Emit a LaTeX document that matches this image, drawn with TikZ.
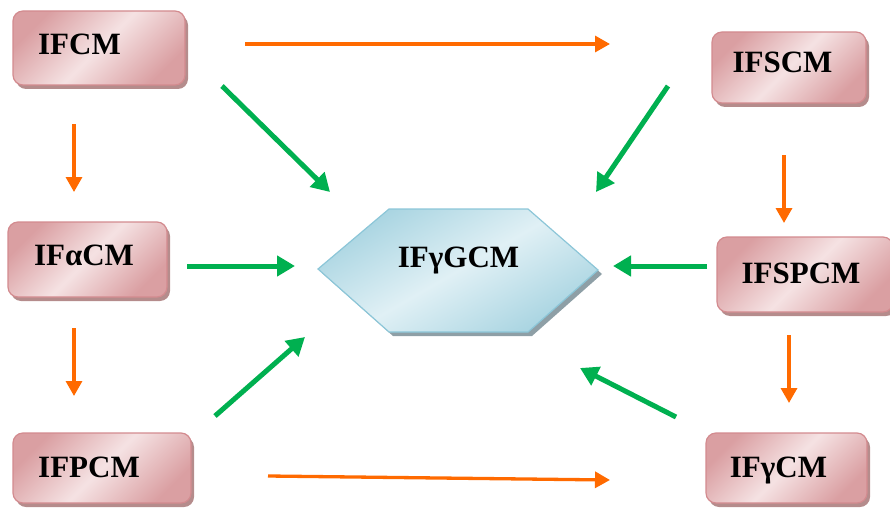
\documentclass[tikz,border=0pt]{standalone}
\usepackage{fontspec}
\setmainfont{Liberation Serif}
\usetikzlibrary{arrows.meta,shadows}
\definecolor{pinkL}{HTML}{F5E2E3}
\definecolor{pinkD}{HTML}{DA9FA2}
\definecolor{pinkB}{HTML}{D38B8F}
\definecolor{pinkS}{HTML}{B58C8C}
\definecolor{blueL}{HTML}{E0F0F5}
\definecolor{blueD}{HTML}{A8D4E1}
\definecolor{blueB}{HTML}{8CC6D8}
\definecolor{blueS}{HTML}{8E9FA6}
\definecolor{arrOr}{HTML}{FF6A00}
\definecolor{arrGr}{HTML}{00B050}
\tikzset{
  pbox/.style={draw=pinkB, line width=1.2pt, rounded corners=10pt,
    top color=pinkD, bottom color=pinkD, middle color=pinkL, shading angle=45,
    drop shadow={shadow xshift=3pt, shadow yshift=-4pt, fill=pinkS, opacity=1},
    inner sep=0pt},
  lbl/.style={font=\fontsize{31}{31}\selectfont\bfseries, anchor=base, inner sep=0pt},
  oarr/.style={draw=arrOr, line width=3.3pt, -{Triangle[length=15pt,width=16pt]}},
  garr/.style={draw=arrGr, line width=5pt, -{Triangle[length=18pt,width=20pt]}}
}
\begin{document}
\begin{tikzpicture}[x=1pt,y=-1pt]
\useasboundingbox (0,0) rectangle (890,508);
% boxes
\node[pbox, minimum width=172pt, minimum height=74pt] (b1) at (99,48) {};
\node[pbox, minimum width=154pt, minimum height=71pt] (b2) at (789,67.5) {};
\node[pbox, minimum width=159pt, minimum height=75pt] (b3) at (87.5,259.5) {};
\node[pbox, minimum width=176pt, minimum height=75pt] (b4) at (805,274.5) {};
\node[pbox, minimum width=178pt, minimum height=70pt] (b5) at (102,468) {};
\node[pbox, minimum width=161pt, minimum height=70pt] (b6) at (786.5,468) {};
% hexagon
\fill[blueS] (322,273) -- (393,213) -- (532,213) -- (602,274) -- (532,336) -- (393,336) -- cycle;
\path[draw=blueB, line width=1.2pt, top color=blueD, bottom color=blueD, middle color=blueL, shading angle=30]
  (318,269) -- (389,209) -- (528,209) -- (598,270) -- (528,332) -- (389,332) -- cycle;
% labels
\node[lbl] (t1) at (79.5,55) {IFCM};
\node[lbl] (t2) at (782.5,73) {IFSCM};
\node[lbl] (t3) at (84,265) {IFαCM};
\node[lbl] (t4) at (801,283) {IFSPCM};
\node[lbl] (t5) at (89,477) {IFPCM};
\node[lbl] (t6) at (778.5,477) {IFγCM};
\node[lbl] (tc) at (458.5,267) {IFγGCM};
% arrow endpoints
\coordinate (o1a) at (245,44);  \coordinate (o1b) at (610,44);
\coordinate (o2a) at (74,124);  \coordinate (o2b) at (74,192);
\coordinate (o3a) at (74,328);  \coordinate (o3b) at (74,396);
\coordinate (o4a) at (268,476); \coordinate (o4b) at (610,480);
\coordinate (o5a) at (784,155); \coordinate (o5b) at (784,223);
\coordinate (o6a) at (789,335); \coordinate (o6b) at (789,403);
\coordinate (g1a) at (222,86);  \coordinate (g1b) at (330,192);
\coordinate (g2a) at (668,86);  \coordinate (g2b) at (596,192);
\coordinate (g3a) at (187,266); \coordinate (g3b) at (295,266);
\coordinate (g4a) at (707,266); \coordinate (g4b) at (613,266);
\coordinate (g5a) at (215,416); \coordinate (g5b) at (305,337);
\coordinate (g6a) at (676,417); \coordinate (g6b) at (580,368);
% orange arrows
\draw[oarr] (o1a) -- (o1b);
\draw[oarr] (o2a) -- (o2b);
\draw[oarr] (o3a) -- (o3b);
\draw[oarr] (o4a) -- (o4b);
\draw[oarr] (o5a) -- (o5b);
\draw[oarr] (o6a) -- (o6b);
% green arrows
\draw[garr] (g1a) -- (g1b);
\draw[garr] (g2a) -- (g2b);
\draw[garr] (g3a) -- (g3b);
\draw[garr] (g4a) -- (g4b);
\draw[garr] (g5a) -- (g5b);
\draw[garr] (g6a) -- (g6b);
\end{tikzpicture}
\end{document}
